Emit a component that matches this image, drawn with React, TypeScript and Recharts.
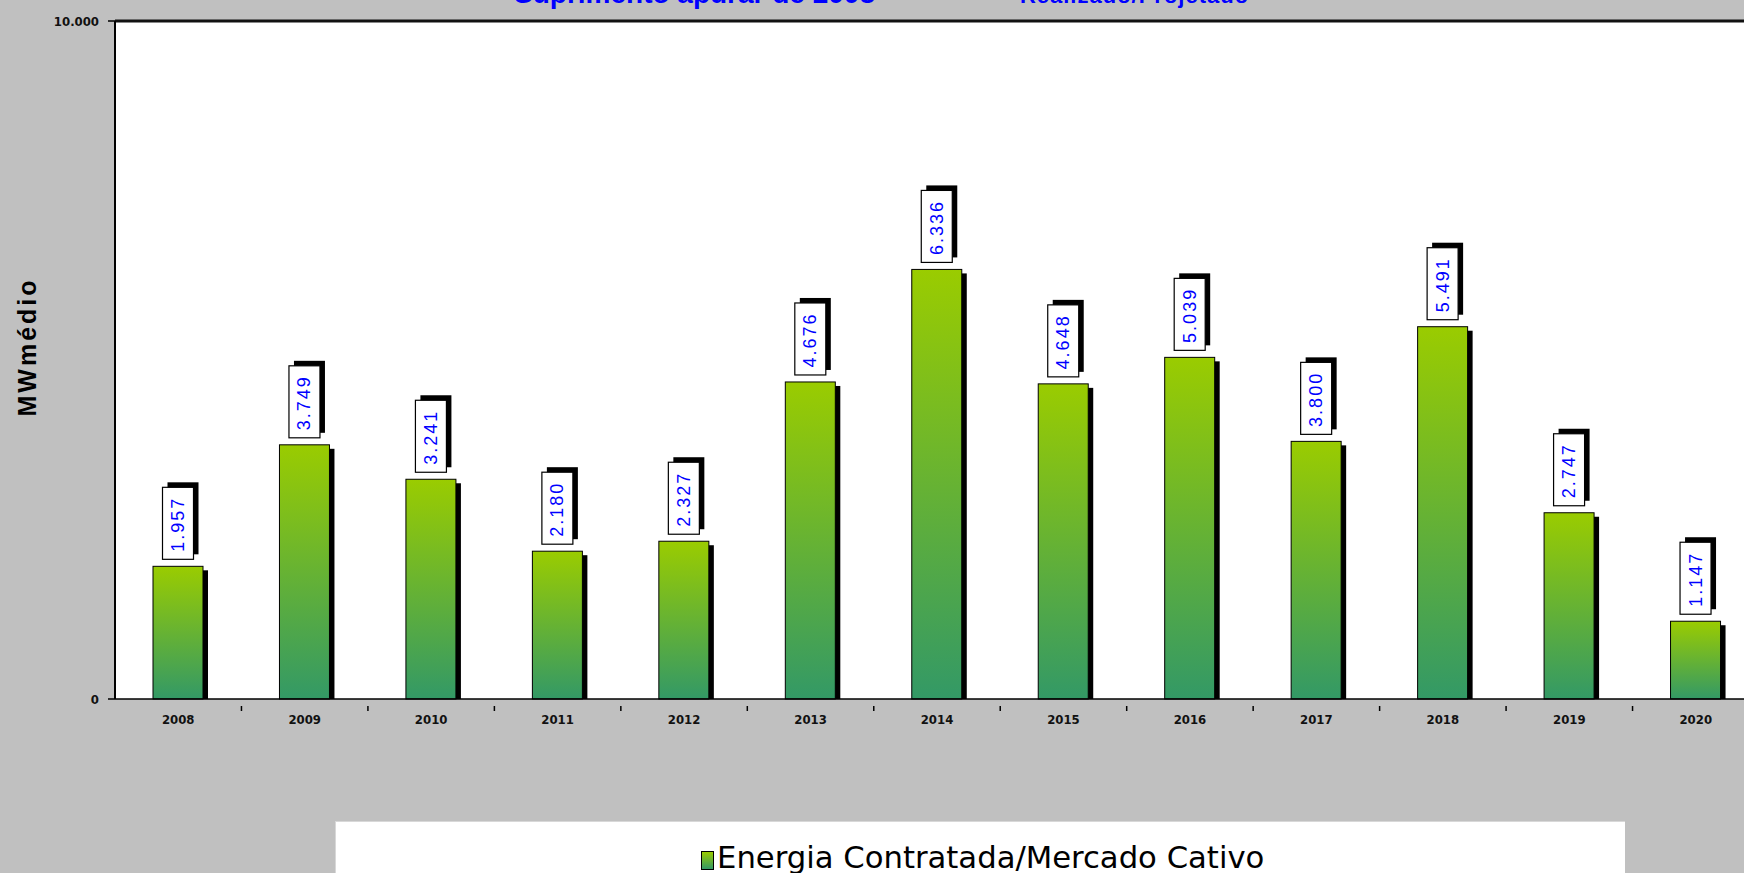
import { BarChart, Bar, XAxis, YAxis, CartesianGrid, LabelList, ReferenceLine } from 'recharts'

const years = ['2008', '2009', '2010', '2011', '2012', '2013', '2014', '2015', '2016', '2017', '2018', '2019', '2020']
const energia = [1957, 3749, 3241, 2180, 2327, 4676, 6336, 4648, 5039, 3800, 5491, 2747, 1147]
const yTicks = [0, 10000]

const data = years.map((y, i) => ({ ano: y, energia: energia[i] }))

const CHART_W = 1800
const CHART_H = 873
const PLOT_LEFT = 115
const PLOT_W = 1644
const CAT_W = PLOT_W / years.length
const NARROW = "'Liberation Sans Narrow', 'DejaVu Sans Condensed', Arial, sans-serif"

const fmt = (v: number) => (v === 0 ? '0' : (v / 1000).toFixed(3))

function XTick(props: any) {
  const { x, y, payload } = props
  return (
    <g>
      <text x={x} y={y + 17} textAnchor="middle" fontSize={13} fontWeight={700} fontFamily={NARROW} fill="#111">
        {payload.value}
      </text>
      <line x1={x + CAT_W / 2} x2={x + CAT_W / 2} y1={y - 1} y2={y + 4} stroke="#000" strokeWidth={1.5} />
    </g>
  )
}

function ShadowBar(props: any) {
  const { x, y, width, height } = props
  if (!height) return null
  return (
    <g>
      <rect x={x + 5} y={y + 4} width={width} height={height - 4} fill="#000" />
      <rect x={x} y={y} width={width} height={height} fill="url(#barGrad)" stroke="#000" strokeWidth={1} />
    </g>
  )
}

function ValueBox(props: any) {
  const { x, y, width, value } = props
  const w = 31
  const h = 72
  const cx = x + width / 2
  const bx = cx - w / 2
  const by = y - 7 - h
  const cy = by + h / 2 + 1
  return (
    <g>
      <rect x={bx + 5} y={by - 5} width={w} height={h} fill="#000" />
      <rect x={bx} y={by} width={w} height={h} fill="#fff" stroke="#000" strokeWidth={1.2} />
      <text
        x={cx}
        y={cy}
        transform={`rotate(-90 ${cx} ${cy})`}
        textAnchor="middle"
        dominantBaseline="central"
        fontSize={18}
        letterSpacing={2}
        fontFamily="'Liberation Sans', Arial, sans-serif"
        fill="#0000ff"
      >
        {fmt(value)}
      </text>
    </g>
  )
}

export default function App() {
  return (
    <div
      style={{
        position: 'absolute',
        left: 0,
        top: 0,
        width: 1744,
        height: 873,
        background: '#c0c0c0',
        overflow: 'hidden',
        fontFamily: "'Liberation Sans', Arial, sans-serif",
      }}
    >
      {/* título cortado no topo */}
      <div
        style={{
          position: 'absolute',
          left: 514,
          top: -24,
          whiteSpace: 'nowrap',
          color: '#0000ff',
          fontWeight: 700,
          lineHeight: '36px',
        }}
      >
        <span style={{ fontSize: 28 }}>Suprimento apurar de 2008 - </span>
        <span style={{ fontSize: 22, marginLeft: 120, letterSpacing: 1 }}>Realizado/Projetado</span>
      </div>

      <div
        style={{
          position: 'absolute',
          left: 27,
          top: 347,
          transform: 'translate(-50%, -50%) rotate(-90deg)',
          fontSize: 25,
          letterSpacing: 3,
          fontWeight: 700,
          color: '#000',
          whiteSpace: 'nowrap',
        }}
      >
        MWmédio
      </div>

      <div style={{ position: 'absolute', left: 0, top: 0 }}>
        <BarChart
          width={CHART_W}
          height={CHART_H}
          data={data}
          margin={{ top: 21, right: CHART_W - PLOT_LEFT - PLOT_W, bottom: 113, left: 0 }}
          barSize={50}
        >
          <defs>
            <linearGradient id="barGrad" x1="0" y1="0" x2="0" y2="1">
              <stop offset="0%" stopColor="#9acc00" />
              <stop offset="100%" stopColor="#339966" />
            </linearGradient>
          </defs>
          <CartesianGrid horizontal={false} vertical={false} fill="#ffffff" stroke="none" />
          <XAxis
            dataKey="ano"
            height={61}
            tick={<XTick />}
            tickLine={false}
            axisLine={{ stroke: '#000', strokeWidth: 1.5 }}
            interval={0}
          />
          <YAxis
            width={PLOT_LEFT}
            domain={[0, 10000]}
            ticks={yTicks}
            tickFormatter={fmt}
            tickSize={7}
            tickMargin={9}
            tick={{ fontSize: 13, fontWeight: 700, fontFamily: NARROW, fill: '#111' }}
            tickLine={{ stroke: '#000', strokeWidth: 1.5 }}
            axisLine={{ stroke: '#000', strokeWidth: 2 }}
          />
          <ReferenceLine y={10000} stroke="#111" strokeWidth={3} />
          <Bar dataKey="energia" shape={<ShadowBar />} isAnimationActive={false}>
            <LabelList dataKey="energia" content={<ValueBox />} />
          </Bar>
        </BarChart>
      </div>

      {/* legenda */}
      <div
        style={{
          position: 'absolute',
          left: 335,
          top: 821,
          width: 1289,
          height: 60,
          background: '#fff',
          borderTop: '1px solid #d8d8d8',
          borderLeft: '1px solid #d8d8d8',
        }}
      >
        <div
          style={{
            position: 'absolute',
            left: 365,
            top: 20,
            display: 'flex',
            alignItems: 'flex-end',
            whiteSpace: 'nowrap',
          }}
        >
          <span
            style={{
              display: 'inline-block',
              width: 11,
              height: 17,
              border: '1px solid #000',
              background: 'linear-gradient(#9acc00, #339966)',
              marginRight: 3,
              marginBottom: 2,
            }}
          />
          <span
            style={{
              fontSize: 31,
              fontFamily: NARROW,
              color: '#000',
              lineHeight: '30px',
              display: 'inline-block',
              transform: 'scaleX(1.1)',
              transformOrigin: 'left center',
            }}
          >
            Energia Contratada/Mercado Cativo
          </span>
        </div>
      </div>
    </div>
  )
}
